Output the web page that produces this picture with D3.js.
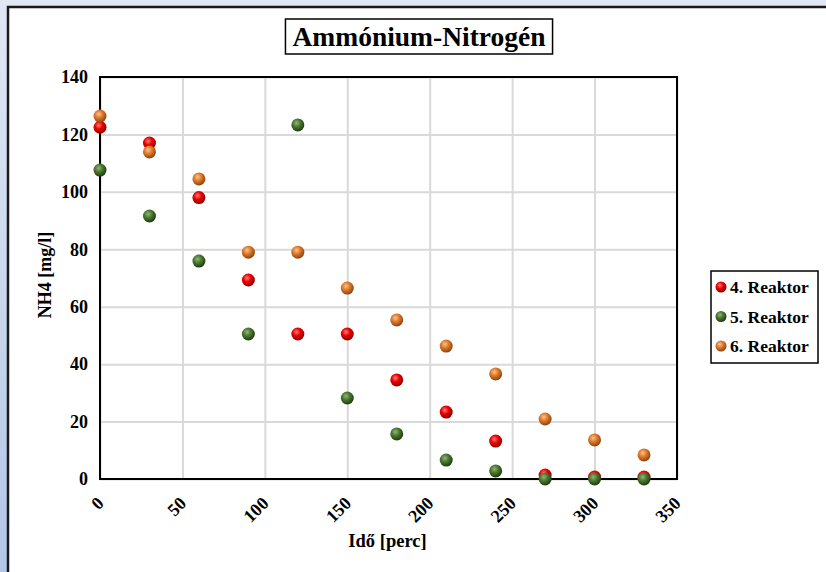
<!DOCTYPE html>
<html>
<head>
<meta charset="utf-8">
<script src="https://cdn.jsdelivr.net/npm/d3@7"></script>
<style>
  body { margin: 0; background: #fff; }
  text { font-family: "Liberation Serif", "Times New Roman", serif; font-weight: bold; fill: #000; }
</style>
</head>
<body>
<div id="chart"></div>
<script>
// Data
const times = [0, 30, 60, 90, 120, 150, 180, 210, 240, 270, 300, 330];
const reaktor4 = [122.5, 117, 98, 69.3, 50.5, 50.5, 34.5, 23.3, 13.2, 1.4, 0.7, 0.7];
const reaktor5 = [107.6, 91.6, 75.9, 50.5, 123.3, 28.2, 15.7, 6.6, 2.8, 0, 0, 0];
const reaktor6 = [126.4, 113.9, 104.5, 79, 79, 66.5, 55.4, 46.3, 36.6, 20.9, 13.6, 8.4];
const seriesNames = ["4. Reaktor", "5. Reaktor", "6. Reaktor"];
const xTicks = [0, 50, 100, 150, 200, 250, 300, 350];
const yTicks = [0, 20, 40, 60, 80, 100, 120, 140];

const series = [
  { name: seriesNames[0], values: reaktor4, light: "#ff8080", base: "#ee0000", dark: "#8a0000" },
  { name: seriesNames[1], values: reaktor5, light: "#93b47e", base: "#4a7a2e", dark: "#1f3a12" },
  { name: seriesNames[2], values: reaktor6, light: "#f8c592", base: "#e07a2c", dark: "#8a4510" }
];

const W = 826, H = 572;
const margin = { top: 77, right: 149, bottom: 93, left: 100 };
const width = W - margin.left - margin.right;
const height = H - margin.top - margin.bottom;

const svg = d3.select("#chart").append("svg")
  .attr("width", W)
  .attr("height", H);

// Background and chart frame
const defs = svg.append("defs");
const bg = defs.append("linearGradient").attr("id", "bg")
  .attr("x1", 0).attr("y1", 0).attr("x2", 0).attr("y2", 1);
bg.append("stop").attr("offset", "0%").attr("stop-color", "#e1e8f4");
bg.append("stop").attr("offset", "100%").attr("stop-color", "#b3c6e6");
svg.append("rect").attr("width", W).attr("height", H).attr("fill", "url(#bg)");
svg.append("rect")
  .attr("x", 8).attr("y", 7)
  .attr("width", W).attr("height", H)
  .attr("fill", "#fff")
  .attr("stroke", "#1a1a1a")
  .attr("stroke-width", 2.5);

// Sphere gradients
series.forEach((s, i) => {
  const gr = defs.append("radialGradient").attr("id", "ball" + i)
    .attr("cx", "40%").attr("cy", "35%").attr("r", "65%");
  gr.append("stop").attr("offset", "0%").attr("stop-color", s.light);
  gr.append("stop").attr("offset", "45%").attr("stop-color", s.base);
  gr.append("stop").attr("offset", "100%").attr("stop-color", s.dark);
});

const g = svg.append("g")
  .attr("transform", `translate(${margin.left},${margin.top})`);

const x = d3.scaleLinear().domain([0, 350]).range([0, width]);
const y = d3.scaleLinear().domain([0, 140]).range([height, 0]);

// Gridlines
g.append("g")
  .call(d3.axisBottom(x).tickValues(xTicks).tickSize(height).tickFormat(""))
  .call(a => a.select(".domain").remove())
  .call(a => a.selectAll("line").attr("stroke", "#d9d9d9").attr("stroke-width", 2));
g.append("g")
  .call(d3.axisLeft(y).tickValues(yTicks).tickSize(-width).tickFormat(""))
  .call(a => a.select(".domain").remove())
  .call(a => a.selectAll("line").attr("stroke", "#d9d9d9").attr("stroke-width", 2));

// Plot border
g.append("rect")
  .attr("width", width).attr("height", height)
  .attr("fill", "none").attr("stroke", "#000").attr("stroke-width", 2);

// Y axis labels
const yAxis = g.append("g")
  .call(d3.axisLeft(y).tickValues(yTicks).tickSize(0).tickPadding(12))
  .call(a => a.select(".domain").remove());
yAxis.selectAll("text")
  .style("font-family", "'Liberation Serif', serif")
  .style("font-weight", "bold")
  .style("font-size", "18px")
  .attr("fill", "#000");

// X axis labels, rotated
const xAxis = g.append("g")
  .attr("transform", `translate(0,${height})`)
  .call(d3.axisBottom(x).tickValues(xTicks).tickSize(0).tickFormat(d3.format("d")))
  .call(a => a.select(".domain").remove());
xAxis.selectAll("text")
  .style("font-family", "'Liberation Serif', serif")
  .style("font-weight", "bold")
  .style("font-size", "18px")
  .attr("fill", "#000")
  .attr("text-anchor", "end")
  .attr("y", 0)
  .attr("dy", "0.35em")
  .attr("transform", "translate(0,21) rotate(-45)");

// Axis titles
svg.append("text")
  .attr("x", margin.left + x(175) - 1)
  .attr("y", 547)
  .attr("text-anchor", "middle")
  .style("font-size", "18.5px")
  .text("Idő [perc]");

svg.append("text")
  .attr("transform", `translate(51,${margin.top + height / 2 - 3}) rotate(-90)`)
  .attr("text-anchor", "middle")
  .style("font-size", "18px")
  .text("NH4 [mg/l]");

// Title with box
const titleG = svg.append("g");
const titleBox = titleG.append("rect");
const title = titleG.append("text")
  .attr("x", 419)
  .attr("y", 46)
  .attr("text-anchor", "middle")
  .style("font-size", "27.5px")
  .text("Ammónium-Nitrogén");
const tb = title.node().getBBox();
titleBox
  .attr("x", tb.x - 7).attr("y", 19)
  .attr("width", tb.width + 14).attr("height", 35)
  .attr("fill", "#fff").attr("stroke", "#000").attr("stroke-width", 1.5);

// Points
series.forEach((s, i) => {
  g.append("g").selectAll("circle")
    .data(s.values.map((v, j) => ({ t: times[j], v: v })))
    .join("circle")
    .attr("cx", d => x(d.t))
    .attr("cy", d => y(d.v))
    .attr("r", 6.5)
    .attr("fill", `url(#ball${i})`);
});

// Legend
const legend = svg.append("g").attr("transform", "translate(711,271)");
legend.append("rect")
  .attr("width", 107).attr("height", 92)
  .attr("fill", "#fff").attr("stroke", "#000").attr("stroke-width", 1.5);
series.forEach((s, i) => {
  const yy = 16 + i * 29.5;
  legend.append("circle")
    .attr("cx", 10).attr("cy", yy)
    .attr("r", 5.5)
    .attr("fill", `url(#ball${i})`);
  legend.append("text")
    .attr("x", 19).attr("y", yy)
    .attr("dy", "0.35em")
    .style("font-size", "17.5px")
    .text(s.name);
});
</script>
</body>
</html>
